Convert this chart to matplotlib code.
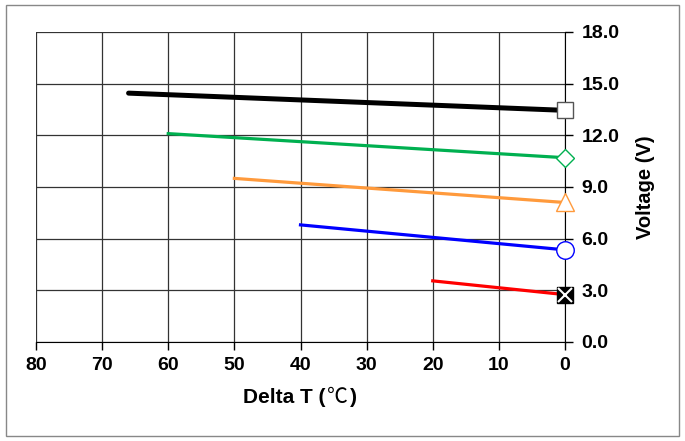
import matplotlib
matplotlib.use("Agg")
import matplotlib.pyplot as plt
from matplotlib.patches import Rectangle
from matplotlib.offsetbox import TextArea, HPacker, AnchoredOffsetbox

plt.rcParams['font.family'] = ['Liberation Sans', 'Noto Sans CJK JP', 'DejaVu Sans']

# Data: (delta T start, voltage start) -> (0, voltage end)
black_x = [66, 0]
black_y = [14.45, 13.45]
green_x = [60, 0]
green_y = [12.1, 10.7]
orange_x = [50, 0]
orange_y = [9.5, 8.1]
blue_x = [40, 0]
blue_y = [6.8, 5.35]
red_x = [20, 0]
red_y = [3.55, 2.75]

x_ticks = [80, 70, 60, 50, 40, 30, 20, 10, 0]
y_ticks = [0, 3, 6, 9, 12, 15, 18]

fig = plt.figure(figsize=(6.85, 4.41), dpi=100)
ax = fig.add_axes([36/685, 1-342/441, (565-36)/685, (342-32)/441])

ax.plot(black_x, black_y, color='black', lw=3.6, solid_capstyle='round', zorder=3)
ax.plot(green_x, green_y, color='#00B050', lw=2.3, zorder=3)
ax.plot(orange_x, orange_y, color='#FF9A3C', lw=2.3, zorder=3)
ax.plot(blue_x, blue_y, color='#0000FF', lw=2.3, zorder=3)
ax.plot(red_x, red_y, color='#FF0000', lw=2.3, zorder=3)

ms = 12
ax.plot([black_x[-1]], [black_y[-1]], marker='s', ms=ms, mfc='white', mec='#555555', mew=1, zorder=5, clip_on=False)
ax.plot([green_x[-1]], [green_y[-1]], marker='D', ms=ms*0.8, mfc='white', mec='#00B050', mew=1, zorder=5, clip_on=False)
ax.plot([orange_x[-1]], [orange_y[-1]], marker='^', ms=ms*1.05, mfc='white', mec='#FF9A3C', mew=1, zorder=5, clip_on=False)
ax.plot([blue_x[-1]], [blue_y[-1]], marker='o', ms=ms*1.05, mfc='white', mec='#0000FF', mew=1, zorder=5, clip_on=False)
ax.plot([red_x[-1]], [red_y[-1]], marker='s', ms=ms, mfc='black', mec='black', mew=1, zorder=5, clip_on=False)
ax.plot([red_x[-1]], [red_y[-1]], marker='x', ms=ms*0.8, mec='white', mew=1.5, zorder=6, clip_on=False)

ax.set_xlim(80, 0)
ax.set_ylim(0, 18)
ax.set_xticks(x_ticks)
ax.set_yticks(y_ticks)
ax.set_yticklabels([f"{v:.1f}" for v in y_ticks])
ax.yaxis.tick_right()
ax.yaxis.set_label_position('right')
ax.grid(True, color='#333333', lw=0.9)
ax.set_axisbelow(True)
for s in ['top', 'left']:
    ax.spines[s].set_visible(False)
ax.spines['right'].set_color('black')
ax.spines['bottom'].set_color('black')
ax.tick_params(axis='both', direction='out', length=6, width=1, labelsize=14, color='black')
ax.tick_params(axis='y', pad=6)
ax.tick_params(axis='x', pad=5)
for lbl in ax.get_xticklabels() + ax.get_yticklabels():
    lbl.set_fontweight('bold')

# X label with bold text and a light full-width degree sign
bold = dict(fontsize=15, fontweight='bold', family=['Liberation Sans', 'DejaVu Sans'])
light = dict(fontsize=15, fontweight='normal', family=['Noto Sans CJK JP', 'DejaVu Sans'])
parts = [TextArea('Delta T (', textprops=bold),
         TextArea('℃', textprops=light),
         TextArea(')', textprops=bold)]
box = HPacker(children=parts, align='baseline', pad=0, sep=1)
anch = AnchoredOffsetbox(loc='center', child=box, frameon=False,
                         bbox_to_anchor=(300/685, 1-397/441), bbox_transform=fig.transFigure,
                         borderpad=0, pad=0)
fig.add_artist(anch)

ax.set_ylabel('Voltage (V)', fontsize=14.5, fontweight='bold', labelpad=12)

fig.patches.append(Rectangle((6/685, 5/441), 673/685, 431/441, transform=fig.transFigure,
                             fill=False, edgecolor='#888888', lw=1))

fig.savefig('out.png', dpi=100)
